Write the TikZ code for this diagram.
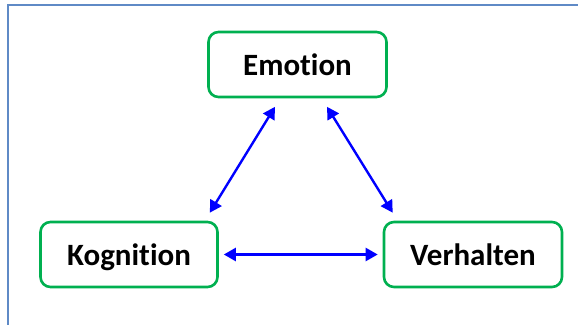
\documentclass[tikz,border=0pt]{standalone}
\usepackage{fontspec}
\setmainfont[Ligatures=NoCommon]{Carlito}
\usetikzlibrary{arrows.meta,calc}
\definecolor{framec}{RGB}{95,138,198}
\definecolor{boxgreen}{RGB}{0,176,80}
\definecolor{arrblue}{RGB}{0,0,255}
\tikzset{
  box/.style={draw=boxgreen, line width=2.6pt, rounded corners=10pt, fill=white,
    minimum height=65pt, inner sep=0pt, text height=22pt, text depth=1pt,
    font=\fontsize{31}{36}\selectfont\bfseries},
  link/.style={draw=arrblue, line width=2.4pt, {Triangle[length=12pt,width=13pt]}-{Triangle[length=12pt,width=13pt]}}
}
\begin{document}
\begin{tikzpicture}[x=1pt,y=-1pt]
\useasboundingbox (0,0) rectangle (578,324);
\draw[framec, line width=1.5pt] (8,340) -- (8,5) -- (600,5);
\node[box, minimum width=178pt] (E) at (297.5,64.5) {Emotion};
\node[box, minimum width=177pt] (K) at (129,254.5) {Kognition};
\node[box, minimum width=178pt] (V) at (473,254.5) {Verhalten};
\draw[link] ([xshift=-22.5pt,yshift=-8.5pt]E.south) -- ([xshift=-9pt,yshift=8pt]K.north east);
\draw[link] ([xshift=29.5pt,yshift=-8.5pt]E.south) -- ([xshift=10pt,yshift=8pt]V.north west);
\draw[link, shorten <=5pt, shorten >=5pt] (K.east) -- (V.west);
\end{tikzpicture}
\end{document}
